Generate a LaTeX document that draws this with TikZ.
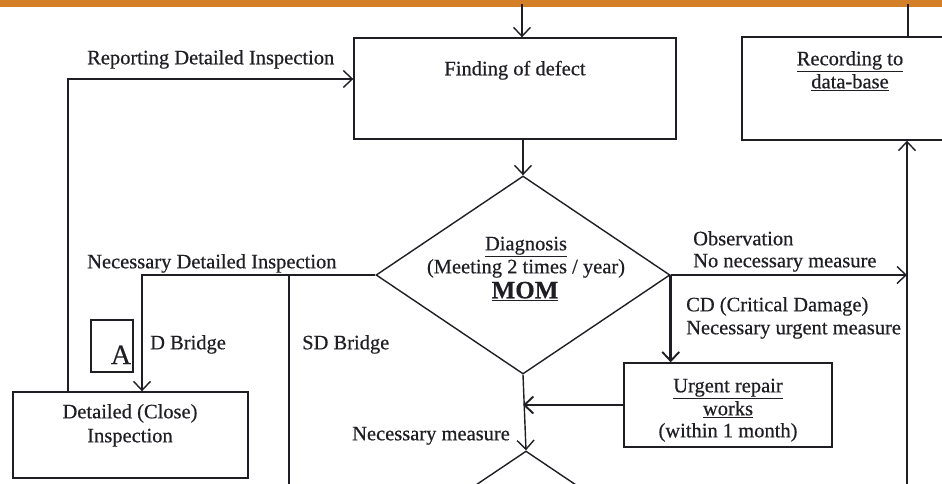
\documentclass[tikz,border=0pt]{standalone}
\usepackage{fontspec}
\setmainfont{Liberation Serif}[FakeBold=0.5]
\newfontfamily\headfont{Liberation Serif}[FakeBold=0.5]
\usetikzlibrary{arrows.meta,shapes.geometric}
\definecolor{bandorange}{RGB}{211,128,41}
\definecolor{ink}{RGB}{30,30,36}

\begin{document}
\begin{tikzpicture}[x=1pt,y=-1pt,
  every node/.style={text=ink, font=\headfont\fontsize{20.5}{24}\selectfont},
  line/.style={draw=ink, line width=1.4pt},
  arr/.style={line, -{Straight Barb[length=9pt,width=17pt,line width=1.4pt]}},
  thickarr/.style={draw=ink, line width=2.5pt, -{Straight Barb[length=9pt,width=17pt,line width=1.9pt]}},
  box/.style={draw=ink, line width=1.4pt, inner sep=0pt},
  decision/.style={draw=ink, line width=1.4pt, shape=diamond, inner sep=0pt,
    minimum width=294pt, minimum height=198pt},
  txt/.style={inner sep=0pt, anchor=mid},
  ltxt/.style={inner sep=0pt, anchor=mid west}]

\useasboundingbox (0,0) rectangle (942,483);
\clip (0,0) rectangle (942,483);

% header band
\fill[bandorange] (0,0) rectangle (942,7);

% boxes
\node[box, minimum width=322pt, minimum height=101pt] (find) at (515,88.5) {};
\node[box, minimum width=216pt, minimum height=103pt] (rec) at (850,88.5) {};
\node[box, minimum width=235pt, minimum height=86pt] (detail) at (130.5,435) {};
\node[box, minimum width=208pt, minimum height=84pt] (urgent) at (728,405) {};
\node[box, minimum width=42pt, minimum height=52pt] (abox) at (112,346) {};

% decisions
\node[decision] (diag) at (523,275) {};
\node[decision] (diag2) at (526,550) {};

% box texts
\node[txt] (findtxt) at (515,73) {Finding of defect};
\node[txt] (rec1) at (850,63) {\underline{Recording to}};
\node[txt] (rec2) at (850,86) {\underline{data-base}};
\node[txt] (det1) at (130,416) {Detailed (Close)};
\node[txt] (det2) at (130,440) {Inspection};
\node[txt] (urg1) at (728,390) {\underline{Urgent repair}};
\node[txt] (urg2) at (728,413) {\underline{works}};
\node[txt] (urg3) at (728,435) {(within 1 month)};
\node[txt] (dg1) at (526,248) {\underline{Diagnosis}};
\node[txt] (dg2) at (526,271) {(Meeting 2 times / year)};
\node[txt, font=\fontsize{25}{28}\selectfont\bfseries] (dg3) at (525,296) {\underline{MOM}};
\node[inner sep=0pt, anchor=base, font=\headfont\fontsize{28}{30}\selectfont] (atxt) at (121,364) {A};

% connector labels
\node[ltxt] (lrep) at (87,62) {Reporting Detailed Inspection};
\node[ltxt] (lnec) at (87,266) {Necessary Detailed Inspection};
\node[ltxt] (ldb) at (150,347) {D Bridge};
\node[ltxt] (lsdb) at (302,347) {SD Bridge};
\node[ltxt] (lobs1) at (693,243) {Observation};
\node[ltxt] (lobs2) at (693,265) {No necessary measure};
\node[ltxt] (lcd1) at (686,309) {CD (Critical Damage)};
\node[ltxt] (lcd2) at (686,332) {Necessary urgent measure};
\node[ltxt] (lnm) at (352,438) {Necessary measure};

% connector points
\coordinate (topin) at (522,4);
\coordinate (rectop) at (908,4);
\coordinate (rp) at (68,79);
\coordinate (ndi) at (142,275);
\coordinate (sd) at (289,275);
\coordinate (sdend) at (289,490);
\coordinate (recup) at (907,490);

% connectors
\draw[arr] (topin) -- (topin |- find.north);
\draw[line] (rectop) -- (rectop |- rec.north);
\draw[arr] (diag.north |- find.south) -- (diag.north);
\draw[arr] (rp |- detail.north) -- (rp) -- (rp -| find.west);
\draw[arr] (diag.west) -- (ndi) -- (ndi |- detail.north);
\draw[line] (sd) -- (sdend);
\draw[arr] (diag.east) -- (diag.east -| recup);
\draw[arr] (recup) -- (recup |- rec.south);
\draw[thickarr] (diag.east) -- (diag.east |- urgent.north);
\draw[thickarr] (urgent.west) -- (urgent.west -| diag.south);
\draw[arr] (diag.south) -- (diag2.north);
\end{tikzpicture}
\end{document}
